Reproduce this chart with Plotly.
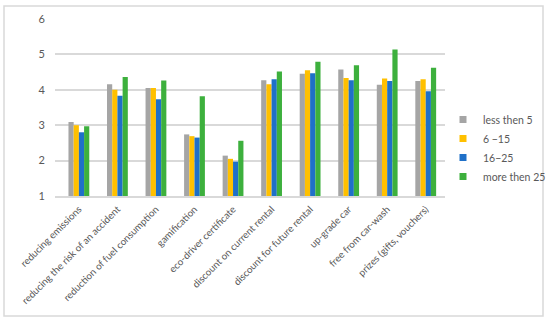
import plotly.graph_objects as go

categories = ["reducing emissions", "reducing the risk of an accident",
              "reduction of fuel consumption", "gamification",
              "eco-driver certificate", "discount on current rental",
              "discount for future rental", "up-grade car",
              "free from car-wash", "prizes (gifts, vouchers)"]
series_names = ["less then 5", "6 \u221215", "16\u221225", "more then 25"]
less_then_5 = [3.09, 4.16, 4.05, 2.74, 2.14, 4.27, 4.45, 4.57, 4.14, 4.25]
s6_15 = [3.00, 4.00, 4.05, 2.69, 2.05, 4.16, 4.55, 4.33, 4.32, 4.30]
s16_25 = [2.80, 3.83, 3.73, 2.65, 1.97, 4.30, 4.47, 4.27, 4.25, 3.96]
more_then_25 = [2.97, 4.36, 4.26, 3.82, 2.56, 4.52, 4.79, 4.69, 5.14, 4.62]
y_ticks = [1, 2, 3, 4, 5, 6]

colors = ["#A5A5A5", "#FFC000", "#1F70C8", "#3DB03D"]
data = [less_then_5, s6_15, s16_25, more_then_25]

fig = go.Figure()
for name, vals, c in zip(series_names, data, colors):
    fig.add_trace(go.Bar(x=categories, y=vals, name=name, marker_color=c,
                         marker_line_width=0, showlegend=False))
# legend entries with small square swatches
for name, c in zip(series_names, colors):
    fig.add_trace(go.Scatter(x=[categories[0]], y=[None], mode="markers",
                             name=name, marker=dict(symbol="square", size=7, color=c),
                             showlegend=True, hoverinfo="skip"))

W, H = 550, 323
l, r, t, b = 55, 105, 19, 127
pw, ph = W - l - r, H - t - b

def px(x):
    return (x - l) / pw

def py(y):
    return (H - b - y) / ph

fig.update_layout(
    width=W, height=H,
    margin=dict(l=l, r=r, t=t, b=b, autoexpand=False),
    paper_bgcolor="white", plot_bgcolor="white",
    barmode="group", bargap=0.46, bargroupgap=0,
    font=dict(family="Lato, Open Sans, sans-serif", size=11, color="#595959"),
    showlegend=True,
    legend=dict(x=px(443), y=py(105), xanchor="left", yanchor="top",
                font=dict(size=10.5, color="#595959"), itemwidth=30,
                tracegroupgap=0, bgcolor="rgba(0,0,0,0)"),
    xaxis=dict(tickangle=-45, showgrid=False, showline=True,
               linecolor="#D9D9D9", linewidth=1.5, ticks="", automargin=False,
               ticklabelstandoff=2,
               tickfont=dict(size=9.8, color="#595959")),
    yaxis=dict(range=[1, 6], tickvals=y_ticks, showgrid=True,
               gridcolor="#D9D9D9", gridwidth=1.5, zeroline=False, automargin=False,
               ticks="", ticklen=0, ticklabelstandoff=9,
               tickfont=dict(size=11, color="#595959"),
               showline=False),
    shapes=[dict(type="rect", xref="paper", yref="paper",
                 x0=px(4), x1=px(543), y0=py(316), y1=py(6),
                 line=dict(color="#D9D9D9", width=1.5), layer="below")],
)

fig.write_html("out.html", config={"responsive": False, "displayModeBar": False},
               post_script="document.body.style.margin='0';document.body.style.overflow='hidden';")
